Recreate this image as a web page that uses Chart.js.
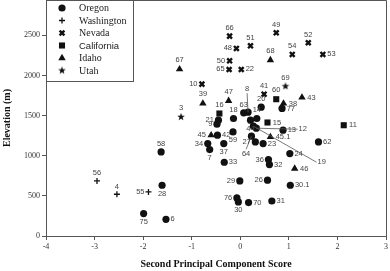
<!DOCTYPE html>
<html><head><meta charset="utf-8">
<script src="https://cdn.jsdelivr.net/npm/chart.js@4.4.0/dist/chart.umd.min.js"></script>
<style>html,body{margin:0;padding:0;background:#fff}#wrap{width:390px;height:271px}</style>
</head><body><div id="wrap"><canvas id="c" width="390" height="271"></canvas></div>
<script>
// ---------- DATA ----------
const stateNames = ['Oregon','Washington','Nevada','California','Idaho','Utah'];
const xTickValues = [-4,-3,-2,-1,0,1,2,3];
const yTickValues = [0,500,1000,1500,2000,2500];

const oregonIds = ['58','28','75','6','21','9','18','63','8','44','14','12','19','64','27','23','42','59','34','7','37','33','36','32','29','26','76','30','70','31','30.1','24','62','13','77','20'];
const oregonX   = [-1.63,-1.61,-1.99,-1.53,-0.45,-0.48,-0.14,0.07,0.16,0.21,0.34,0.33,0.27,0.23,0.31,0.47,-0.47,-0.15,-0.67,-0.63,-0.34,-0.33,0.58,0.60,-0.01,0.56,-0.07,-0.04,0.17,0.65,1.03,1.02,1.61,0.88,0.86,0.43];
const oregonY   = [1047,632,279,208,1443,1393,1464,1534,1542,1443,1464,1343,1368,1243,1172,1152,1256,1297,1152,1077,1152,919,952,890,686,695,474,424,416,436,632,1027,1172,1318,1589,1605];

const washingtonIds = ['56','4','55'];
const washingtonX   = [-2.95,-2.54,-1.89];
const washingtonY   = [686,520,549];

const nevadaIds = ['66','48','51','50','65','22','10','49','52','54','53','41'];
const nevadaX   = [-0.22,-0.08,0.21,-0.22,-0.23,0.02,-0.79,0.74,1.40,1.07,1.70,0.49];
const nevadaY   = [2490,2337,2369,2182,2075,2075,1892,2531,2407,2262,2262,1767];

const californiaIds = ['16','60','15','11'];
const californiaX   = [-0.43,0.74,0.56,2.13];
const californiaY   = [1526,1704,1414,1380];

const idahoIds = ['67','68','39','47','43','38','45','45.1','46'];
const idahoX   = [-1.25,0.62,-0.77,-0.24,1.27,0.89,-0.60,0.62,1.12];
const idahoY   = [2078,2191,1651,1683,1726,1651,1256,1234,840];

const utahIds = ['3','69'];
const utahX   = [-1.22,0.93];
const utahY   = [1484,1866];

// ---------- LABEL PLACEMENT (style, not data) ----------
const oregonLabelSide = ['t','b','b','r','l','l','t','t','-','b','t','-','-','-','l','r','r','b','l','b','b','r','l','r','l','l','l','b','r','r','r','r','r','r','r','t'];
const washingtonLabelSide = ['t','t','l'];
const nevadaLabelSide = ['t','l','t','l','l','r','l','t','t','t','r','t'];
const californiaLabelSide = ['t','t','r','r'];
const idahoLabelSide = ['t','t','t','t','r','r','l','r','r'];
const utahLabelSide = ['t','t'];
const leaderIds = ['8','12','19','64'];
const leaderEndX = [0.14,1.18,1.57,0.12];
const leaderEndY = [1779,1330,919,1081];
const leaderSide = ['t','r','r','b'];

// ---------- STYLE ----------
const INK = '#111';
function makeStar(r){
  const c = document.createElement('canvas');
  const s = Math.ceil(r*2+2); c.width = s; c.height = s;
  const g = c.getContext('2d'); g.fillStyle = INK; g.beginPath();
  for (let i=0;i<10;i++){
    const a = -Math.PI/2 + i*Math.PI/5, rr = i%2===0 ? r : r*0.42;
    g.lineTo(s/2 + rr*Math.cos(a), s/2 + rr*Math.sin(a));
  }
  g.closePath(); g.fill(); return c;
}
const starImg = makeStar(4);

const styles = [
  {pointStyle:'circle', radius:3.6, borderWidth:0},
  {pointStyle:'cross', radius:3, borderWidth:1.3},
  {pointStyle:'crossRot', radius:3.4, borderWidth:2.4},
  {pointStyle:'rect', radius:4.3, borderWidth:0},
  {pointStyle:'triangle', radius:4.3, borderWidth:0},
  {pointStyle:starImg, radius:4, borderWidth:0}
];

const allIds = [oregonIds, washingtonIds, nevadaIds, californiaIds, idahoIds, utahIds];
const allX = [oregonX, washingtonX, nevadaX, californiaX, idahoX, utahX];
const allY = [oregonY, washingtonY, nevadaY, californiaY, idahoY, utahY];
const allSides = [oregonLabelSide, washingtonLabelSide, nevadaLabelSide, californiaLabelSide, idahoLabelSide, utahLabelSide];

const datasets = stateNames.map((name,k)=>({
  label: name,
  data: allX[k].map((x,i)=>({x:x, y:allY[k][i]})),
  pointStyle: styles[k].pointStyle,
  pointRadius: styles[k].radius,
  pointBorderWidth: styles[k].borderWidth,
  backgroundColor: INK,
  borderColor: INK,
  showLine: false
}));

const labelPlugin = {
  id: 'pointLabels',
  afterDatasetsDraw(chart){
    const ctx = chart.ctx, xs = chart.scales.x, ys = chart.scales.y;
    ctx.save();
    ctx.font = '7.5px "Liberation Sans", Arial, sans-serif';
    ctx.fillStyle = '#444';
    ctx.strokeStyle = '#555';
    ctx.lineWidth = 0.8;
    chart.data.datasets.forEach((ds,k)=>{
      const meta = chart.getDatasetMeta(k);
      const r = styles[k].radius;
      meta.data.forEach((el,i)=>{
        const id = allIds[k][i];
        let side = allSides[k][i];
        let px = el.x, py = el.y, off = r + 1;
        const li = leaderIds.indexOf(id);
        if (li >= 0 && k === 0){
          const ex = xs.getPixelForValue(leaderEndX[li]);
          const ey = ys.getPixelForValue(leaderEndY[li]);
          ctx.beginPath(); ctx.moveTo(px,py); ctx.lineTo(ex,ey); ctx.stroke();
          px = ex; py = ey; side = leaderSide[li]; off = 1;
        }
        if (side === 't'){ ctx.textAlign='center'; ctx.textBaseline='bottom'; ctx.fillText(id, px, py-off); }
        else if (side === 'b'){ ctx.textAlign='center'; ctx.textBaseline='top'; ctx.fillText(id, px, py+off); }
        else if (side === 'l'){ ctx.textAlign='right'; ctx.textBaseline='middle'; ctx.fillText(id, px-off, py); }
        else { ctx.textAlign='left'; ctx.textBaseline='middle'; ctx.fillText(id, px+off, py); }
      });
    });
    ctx.restore();
  }
};

const framePlugin = {
  id: 'frameAndLegend',
  afterDraw(chart){
    const ctx = chart.ctx, a = chart.chartArea;
    ctx.save();
    ctx.strokeStyle = '#555'; ctx.lineWidth = 1;
    ctx.beginPath();
    ctx.moveTo(a.left, a.top+0.5); ctx.lineTo(a.right+0.5, a.top+0.5); ctx.lineTo(a.right+0.5, a.bottom);
    ctx.stroke();
    // legend box
    const lx = a.left, ly = a.top, lw = 87, lh = 81;
    ctx.fillStyle = '#fff';
    ctx.fillRect(lx+0.5, ly+0.5, lw, lh);
    ctx.strokeRect(lx+0.5, ly+0.5, lw, lh);
    stateNames.forEach((name,k)=>{
      const cy = ly + 8 + k*12.5;
      const cx = lx + 16;
      ctx.fillStyle = INK; ctx.strokeStyle = INK; ctx.lineWidth = styles[k].borderWidth;
      Chart.helpers.drawPoint(ctx, {pointStyle: styles[k].pointStyle, radius: styles[k].radius, borderWidth: styles[k].borderWidth, rotation: 0}, cx, cy);
      ctx.fillStyle = '#222';
      ctx.font = (name === 'California') ? '9.5px "Liberation Sans", Arial, sans-serif' : '10px "Liberation Serif", "Times New Roman", serif';
      ctx.textAlign = 'left'; ctx.textBaseline = 'middle';
      ctx.fillText(name, lx + 33, cy + 0.5);
      ctx.strokeStyle = '#555'; ctx.lineWidth = 1;
    });
    ctx.restore();
  }
};

const tickFont = {family:'"Liberation Serif", "Times New Roman", serif', size:8};
const titleFont = {family:'"Liberation Serif", "Times New Roman", serif', size:10, weight:'bold'};
const zeroPad = () => ({left:0, top:0, right:0, bottom:0});

new Chart(document.getElementById('c'), {
  type: 'scatter',
  data: { datasets },
  options: {
    responsive: false,
    animation: false,
    events: [],
    devicePixelRatio: 1,
    layout: { autoPadding: false, padding: {left:0, right:4, top:0, bottom:0} },
    plugins: { legend: {display:false}, tooltip: {enabled:false} },
    scales: {
      x: {
        type:'linear', min:-4, max:3,
        afterBuildTicks: s => { s.ticks = xTickValues.map(v=>({value:v})); },
        ticks: { font: tickFont, color:'#333', padding:2, maxRotation:0, callback: v => String(v) },
        grid: { drawOnChartArea:false, drawTicks:true, tickLength:4, color:'#555' },
        border: { display:true, color:'#555' },
        title: { display:true, text:'Second Principal Component Score', font:titleFont, color:'#111', padding:{top:0,bottom:1} },
        afterFit: s => { s.height = 35; s.getPadding = zeroPad; }
      },
      y: {
        type:'linear', min:0, max:2940,
        afterBuildTicks: s => { s.ticks = yTickValues.map(v=>({value:v})); },
        ticks: { font: tickFont, color:'#333', padding:2, callback: v => String(v) },
        grid: { drawOnChartArea:false, drawTicks:true, tickLength:4, color:'#555' },
        border: { display:true, color:'#555' },
        title: { display:true, text:'Elevation (m)', font:titleFont, color:'#111', padding:{top:1,bottom:0} },
        afterFit: s => { s.width = 46; s.getPadding = zeroPad; }
      }
    }
  },
  plugins: [labelPlugin, framePlugin]
});
</script>
</body></html>
